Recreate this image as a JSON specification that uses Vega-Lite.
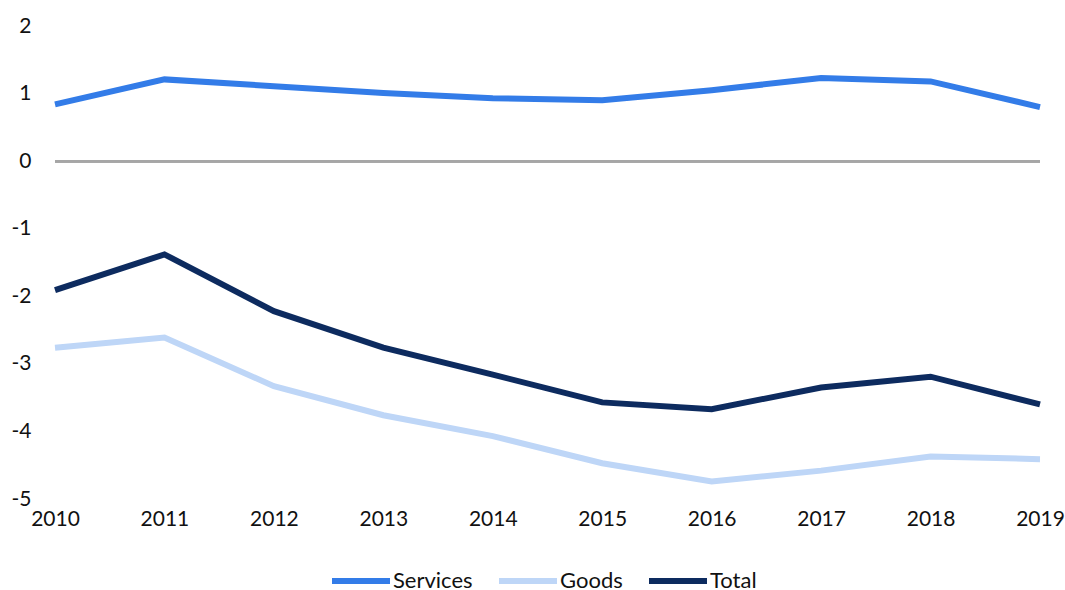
{
  "$schema": "https://vega.github.io/schema/vega-lite/v6.json",
  "width": 985,
  "height": 473,
  "autosize": {"type": "none"},
  "padding": {"left": 55, "top": 26, "right": 25, "bottom": 91},
  "background": "white",
  "config": {
    "view": {"stroke": null},
    "font": "Lato",
    "axis": {"labelFont": "Lato", "labelFontSize": 21, "labelColor": "#111111"}
  },
  "data": {
    "values": [
      {"year": "2010", "series": "Services", "value": 0.84},
      {"year": "2011", "series": "Services", "value": 1.21},
      {"year": "2012", "series": "Services", "value": 1.11},
      {"year": "2013", "series": "Services", "value": 1.01},
      {"year": "2014", "series": "Services", "value": 0.93},
      {"year": "2015", "series": "Services", "value": 0.90},
      {"year": "2016", "series": "Services", "value": 1.05},
      {"year": "2017", "series": "Services", "value": 1.23},
      {"year": "2018", "series": "Services", "value": 1.18},
      {"year": "2019", "series": "Services", "value": 0.80},
      {"year": "2010", "series": "Goods", "value": -2.76},
      {"year": "2011", "series": "Goods", "value": -2.61},
      {"year": "2012", "series": "Goods", "value": -3.33},
      {"year": "2013", "series": "Goods", "value": -3.76},
      {"year": "2014", "series": "Goods", "value": -4.07},
      {"year": "2015", "series": "Goods", "value": -4.47},
      {"year": "2016", "series": "Goods", "value": -4.74},
      {"year": "2017", "series": "Goods", "value": -4.58},
      {"year": "2018", "series": "Goods", "value": -4.37},
      {"year": "2019", "series": "Goods", "value": -4.41},
      {"year": "2010", "series": "Total", "value": -1.91},
      {"year": "2011", "series": "Total", "value": -1.38},
      {"year": "2012", "series": "Total", "value": -2.22},
      {"year": "2013", "series": "Total", "value": -2.76},
      {"year": "2014", "series": "Total", "value": -3.16},
      {"year": "2015", "series": "Total", "value": -3.57},
      {"year": "2016", "series": "Total", "value": -3.67},
      {"year": "2017", "series": "Total", "value": -3.35},
      {"year": "2018", "series": "Total", "value": -3.19},
      {"year": "2019", "series": "Total", "value": -3.60}
    ]
  },
  "layer": [
    {
      "mark": {"type": "rule", "stroke": "#a6a6a6", "strokeWidth": 2},
      "encoding": {"y": {"datum": 0, "type": "quantitative", "scale": {"domain": [-5, 2]}}}
    },
    {
      "mark": {"type": "line", "strokeWidth": 6, "strokeCap": "butt", "strokeJoin": "miter"},
      "encoding": {
        "x": {
          "field": "year", "type": "ordinal",
          "scale": {"type": "point", "padding": 0},
          "axis": {"title": null, "domain": false, "ticks": false, "grid": false, "labelAngle": 0, "labelPadding": 9}
        },
        "y": {
          "field": "value", "type": "quantitative",
          "scale": {"domain": [-5, 2], "nice": false},
          "axis": {"title": null, "domain": false, "ticks": false, "labelExpr": "'' + datum.value", "values": [-5, -4, -3, -2, -1, 0, 1, 2], "gridColor": "#d4d4d4", "gridWidth": 1.3, "labelPadding": 24, "labelBaseline": "middle"}
        },
        "color": {
          "field": "series", "type": "nominal",
          "scale": {"domain": ["Services", "Goods", "Total"], "range": ["#337ce8", "#bed6f7", "#0d2b5f"]},
          "legend": {
            "title": null, "orient": "none", "direction": "horizontal",
            "legendX": 274, "legendY": 523,
            "symbolType": "stroke", "symbolSize": 3364, "symbolStrokeWidth": 6,
            "labelFontSize": 22, "labelFont": "Lato", "labelColor": "#111111",
            "labelOffset": 0, "columnPadding": 14
          }
        }
      }
    }
  ]
}
